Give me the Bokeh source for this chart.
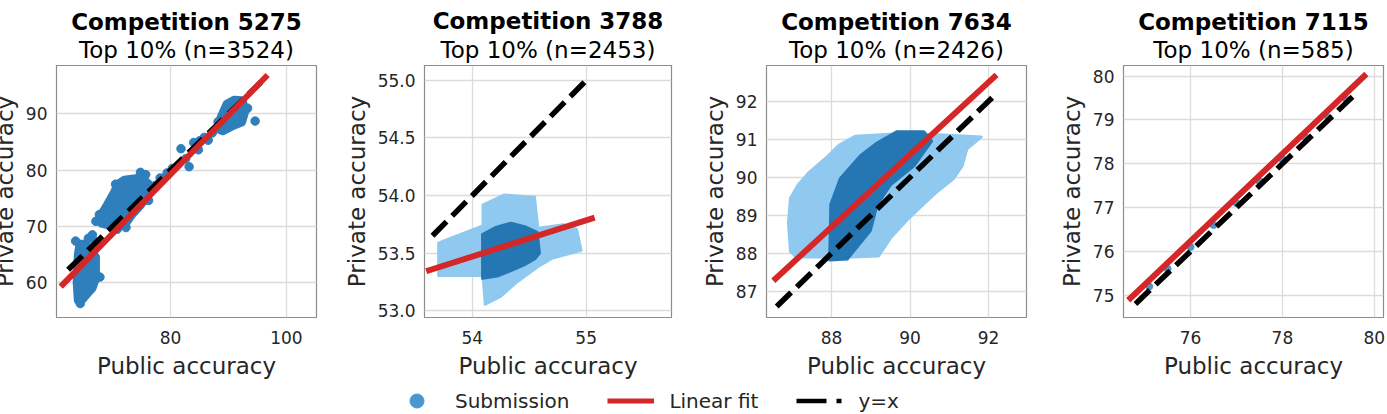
from bokeh.plotting import figure
from bokeh.models import Range1d, FixedTicker, Title, Legend, LegendItem
from bokeh.layouts import row, column
from bokeh.embed import file_html
from bokeh.resources import INLINE

FONT = "DejaVu Sans"
TXT = "#262626"
DARK = "#2f7fbc"
CORE = "#2577b4"
LIGHT = "#8fc9f0"
RED = "#d62728"
MARK = "#4a97cf"

# ---------------- data ----------------
titles = ["Competition 5275", "Competition 3788", "Competition 7634", "Competition 7115"]
subtitles = ["Top 10% (n=3524)", "Top 10% (n=2453)", "Top 10% (n=2426)", "Top 10% (n=585)"]

# panel 1 (5275): dense clusters as outlines + individual submissions
p1_cluster_x = [
    [63.9, 64.6, 65.4, 66.6, 67.2, 67.2, 66.4, 65.5, 64.2, 63.9, 63.7],
    [67.6, 68.9, 70.2, 70.8, 72.0, 75.0, 76.8, 76.6, 75.0, 73.4, 72.2, 70.5, 68.0],
    [88.0, 88.6, 89.6, 91.0, 92.5, 93.0, 92.4, 90.5, 89.0],
]
p1_cluster_y = [
    [56.8, 56.6, 57.6, 59.0, 60.8, 64.6, 65.6, 67.0, 67.0, 65.0, 60.0],
    [71.6, 73.8, 76.2, 77.6, 78.4, 78.8, 77.2, 76.0, 73.8, 72.0, 70.2, 69.8, 70.4],
    [87.3, 89.5, 91.8, 92.6, 92.5, 90.5, 88.4, 87.6, 86.8],
]
p1_pts_x = [94.6, 81.8, 83.2, 82.6, 84.0, 85.0, 85.8, 86.5, 84.8, 87.2, 80.3, 79.4,
            78.2, 77.4, 75.7, 72.3, 70.8, 67.7, 67.1, 66.5, 67.0, 70.5, 74.8, 88.2,
            89.0, 93.3, 76.2, 73.8, 63.6, 65.8, 67.8, 64.4]
p1_pts_y = [88.7, 83.8, 80.6, 82.0, 84.9, 85.2, 85.8, 85.3, 83.6, 86.6, 80.3, 79.5,
            78.6, 77.3, 79.2, 69.8, 69.5, 72.1, 70.9, 68.5, 67.3, 77.5, 79.6, 88.6,
            88.0, 91.0, 74.6, 72.8, 67.4, 67.9, 61.0, 56.3]
p1_fit_x = [61.4, 96.4]
p1_fit_y = [59.7, 96.5]
p1_id = [62.3, 95.6]

# panel 2 (3788)
p2_all_x = [53.70, 53.70, 53.88, 54.09, 54.09, 54.28, 54.55, 54.58, 54.80, 54.92,
            54.96, 54.70, 54.58, 54.40, 54.25, 54.11, 54.09]
p2_all_y = [53.30, 53.59, 53.66, 53.74, 53.92, 54.01, 53.99, 53.72, 53.75, 53.71,
            53.52, 53.45, 53.38, 53.25, 53.12, 53.05, 53.30]
p2_top_x = [54.09, 54.09, 54.20, 54.34, 54.46, 54.57, 54.59, 54.55, 54.46, 54.37, 54.22]
p2_top_y = [53.28, 53.66, 53.72, 53.76, 53.73, 53.68, 53.50, 53.45, 53.40, 53.36, 53.30]
p2_fit_x = [53.62, 55.05]
p2_fit_y = [53.35, 53.80]
p2_id = [53.65, 55.03]

# panel 3 (7634)
p3_all_x = [86.95, 86.90, 86.95, 87.15, 87.45, 87.85, 88.20, 88.60, 89.50, 90.50,
            91.82, 91.45, 91.33, 91.10, 90.67, 90.33, 89.90, 89.50, 89.20, 88.50,
            87.30, 87.05]
p3_all_y = [88.05, 88.80, 89.45, 89.80, 90.15, 90.50, 90.85, 91.08, 91.13, 91.13,
            91.06, 90.75, 90.30, 89.96, 89.60, 89.28, 88.85, 88.40, 87.93, 87.90,
            87.90, 87.95]
p3_top_x = [87.95, 87.98, 88.22, 88.73, 89.16, 89.67, 90.35, 90.55, 90.10, 89.50,
            89.16, 88.99, 88.40]
p3_top_y = [87.82, 89.28, 89.96, 90.56, 90.90, 91.20, 91.20, 90.95, 90.30, 89.80,
            89.28, 88.60, 87.85]
p3_fit_x = [86.57, 92.15]
p3_fit_y = [87.33, 92.64]
p3_id = [86.6, 92.1]

# panel 4 (7115)
p4_pts_x = [75.1, 75.5, 76.0, 76.5, 77.0, 77.5, 78.0, 78.5, 79.0, 79.4]
p4_pts_y = [75.2, 75.6, 76.1, 76.6, 77.1, 77.6, 78.1, 78.6, 79.05, 79.45]
p4_fit_x = [74.69, 79.78]
p4_fit_y = [74.93, 80.0]
p4_id = [74.8, 79.6]

# ranges and ticks
x_ranges = [(60.3, 105.2), (53.58, 55.75), (86.34, 92.97), (74.54, 80.2)]
y_ranges = [(53.83, 98.57), (52.94, 55.13), (86.31, 92.94), (74.49, 80.24)]
x_ticks = [[80, 100], [54, 55], [88, 90, 92], [76, 78, 80]]
y_ticks = [[60, 70, 80, 90], [53.0, 53.5, 54.0, 54.5, 55.0],
           [87, 88, 89, 90, 91, 92], [75, 76, 77, 78, 79, 80]]
y_tick_labels_p2 = ["53.0", "53.5", "54.0", "54.5", "55.0"]

legend_labels = ["Submission", "Linear fit", "y=x"]


def make_panel(i, width, left, right, top, bottom, sub_standoff, title_standoff, margin):
    p = figure(width=width, height=388, x_range=Range1d(*x_ranges[i]),
               y_range=Range1d(*y_ranges[i]), output_backend="svg",
               toolbar_location=None, min_border_left=left, min_border_right=right,
               min_border_top=top, min_border_bottom=bottom, margin=margin)
    p.title.text = titles[i]
    p.title.align = "center"
    p.title.text_font = FONT
    p.title.text_font_size = "23px"
    p.title.text_font_style = "bold"
    p.title.text_color = "black"
    p.title.standoff = title_standoff
    p.add_layout(Title(text=subtitles[i], align="center", text_font=FONT,
                       text_font_size="23px", text_font_style="normal",
                       text_color="black", standoff=sub_standoff), "above")
    p.xaxis.ticker = FixedTicker(ticks=x_ticks[i])
    p.yaxis.ticker = FixedTicker(ticks=y_ticks[i])
    for ax in (p.xaxis, p.yaxis):
        ax.major_tick_out = 0
        ax.major_tick_in = 0
        ax.minor_tick_out = 0
        ax.minor_tick_in = 0
        ax.axis_line_color = None
        ax.major_label_text_font = FONT
        ax.major_label_text_font_size = "17px"
        ax.major_label_text_color = TXT
        ax.axis_label_text_font = FONT
        ax.axis_label_text_font_size = "23px"
        ax.axis_label_text_font_style = "normal"
        ax.axis_label_text_color = TXT
    p.xaxis.axis_label = "Public accuracy"
    p.xaxis.major_label_standoff = 13
    p.xaxis.axis_label_standoff = 6
    p.yaxis.major_label_standoff = 9
    p.yaxis.axis_label_standoff = 5
    p.yaxis.axis_label = "Private accuracy"
    p.grid.grid_line_color = "#dcdcdc"
    p.grid.grid_line_width = 1.3
    p.outline_line_color = "#8c8c8c"
    p.outline_line_width = 1.2
    p.background_fill_color = "white"
    return p


# the first panel's y-label runs off the left edge, as in the original figure
f1 = make_panel(0, 342, 66, 14, 62, 61, 5, -4, margin=(-4, 0, 0, -12))
f2 = make_panel(1, 360, 94, 19, 69, 67, 5, -3, margin=(-4, 0, 0, 0))
f3 = make_panel(2, 360, 76, 24, 62, 61, 5, -4, margin=(-4, 0, 0, 0))
f4 = make_panel(3, 337, 73, 4, 62, 61, 5, -4, margin=(-4, 0, 0, 0))

f2.yaxis.major_label_overrides = {t: s for t, s in zip(y_ticks[1], y_tick_labels_p2)}

# panel 1 marks
f1.patches(xs=p1_cluster_x, ys=p1_cluster_y, fill_color=DARK, line_color=DARK,
           line_width=7, line_join="round")
f1.scatter(p1_pts_x, p1_pts_y, size=8.5, color=DARK)

# panel 2 marks
f2.patch(p2_all_x, p2_all_y, fill_color=LIGHT, line_color=LIGHT, line_width=2, line_join="round")
f2.patch(p2_top_x, p2_top_y, fill_color=CORE, line_color=CORE, line_width=3, line_join="round")

# panel 3 marks
f3.patch(p3_all_x, p3_all_y, fill_color=LIGHT, line_color=LIGHT, line_width=3, line_join="round")
f3.patch(p3_top_x, p3_top_y, fill_color=CORE, line_color=CORE, line_width=3, line_join="round")

# panel 4 marks
f4.scatter(p4_pts_x, p4_pts_y, size=7, color=MARK)

for f, idv, fx, fy in ((f1, p1_id, p1_fit_x, p1_fit_y), (f2, p2_id, p2_fit_x, p2_fit_y),
                       (f3, p3_id, p3_fit_x, p3_fit_y), (f4, p4_id, p4_fit_x, p4_fit_y)):
    f.line(idv, idv, line_color="black", line_width=5.5, line_dash="20 8", line_cap="butt")
    f.line(fx, fy, line_color=RED, line_width=6, line_cap="square")

# legend strip (renderers sit outside the visible range; only their legend glyphs show)
lp = figure(width=1387, height=30, x_range=Range1d(0, 1), y_range=Range1d(0, 1),
            output_backend="svg", toolbar_location=None, min_border=0)
lp.axis.visible = False
lp.grid.visible = False
lp.outline_line_color = None
r1 = lp.scatter(x=[-5], y=[-5], size=14, color=MARK)
r2 = lp.line(x=[-5, -4], y=[-5, -5], line_color=RED, line_width=5)
r3 = lp.line(x=[-5, -4], y=[-5, -5], line_color="black", line_width=4.5,
             line_dash="30 10 5 10")
legend = Legend(items=[LegendItem(label=legend_labels[0], renderers=[r1]),
                       LegendItem(label=legend_labels[1], renderers=[r2]),
                       LegendItem(label=legend_labels[2], renderers=[r3])],
                orientation="horizontal", location=(393, -4), padding=0, margin=0,
                spacing=38, glyph_width=47, glyph_height=35, label_standoff=15,
                label_text_font=FONT, label_text_font_size="20px", label_text_color=TXT,
                border_line_alpha=0, background_fill_alpha=0)
lp.add_layout(legend)

layout = column(row(f1, f2, f3, f4), lp)
open("out.html", "w").write(file_html(layout, INLINE))
